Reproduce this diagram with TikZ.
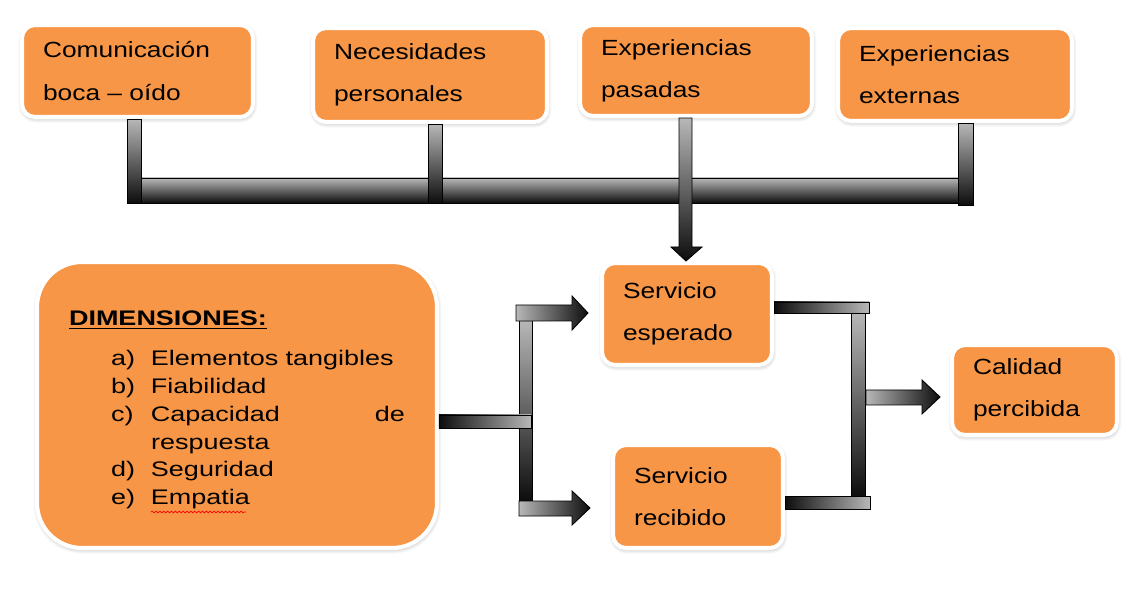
\documentclass[tikz,border=0pt]{standalone}
\usepackage{fontspec}
\setmainfont{Liberation Sans}
\newfontfamily\boxfont{Liberation Sans}[FakeStretch=1.2]
\newfontfamily\dimfont{Liberation Sans}[FakeStretch=1.28]
\usetikzlibrary{shadows.blur,decorations.pathmorphing}
\definecolor{boxorange}{HTML}{F79646}

\begin{document}
\begin{tikzpicture}[x=0.02cm, y=-0.02cm,
    box/.style={rectangle, rounded corners=0.26cm, fill=boxorange, draw=white, line width=2.3pt,
                inner xsep=0.42cm, inner ysep=0pt, align=left,
                font=\boxfont\fontsize{12.5}{24}\selectfont,
                blur shadow={shadow xshift=0.3pt, shadow yshift=-1pt, shadow opacity=30,
                             shadow blur radius=2.5pt, shadow blur steps=8}},
    pipe v/.style={draw=black, line width=0.5pt, top color=black!28, bottom color=black!95},
    pipe h/.style={draw=black, line width=0.5pt, left color=black!28, right color=black!95},
    pipe hrev/.style={draw=black, line width=0.5pt, left color=black!95, right color=black!28}]

  \useasboundingbox (0,0) rectangle (1137,591);

  % cajas de arriba
  \node[box, minimum width=4.62cm, minimum height=1.84cm, text width=3.78cm] (boca) at (137.5,71) {Comunicación\\boca – oído};
  \node[box, minimum width=4.68cm, minimum height=1.88cm, text width=3.84cm] (necesidades) at (430,75) {Necesidades\\personales};
  \node[box, minimum width=4.64cm, minimum height=1.82cm, text width=3.80cm] (pasadas) at (696,70.5) {Experiencias\\pasadas};
  \node[box, minimum width=4.68cm, minimum height=1.86cm, text width=3.84cm] (externas) at (955,74.5) {Experiencias\\externas};

  % servicio y calidad
  \node[box, minimum width=3.40cm, minimum height=2.04cm, text width=2.56cm] (esperado) at (687,314) {Servicio\\esperado};
  \node[box, minimum width=3.40cm, minimum height=2.06cm, text width=2.56cm] (recibido) at (698,496.5) {Servicio\\recibido};
  \node[box, minimum width=3.30cm, minimum height=1.80cm, text width=2.46cm] (calidad) at (1034.5,390) {Calidad\\percibida};

  \node[box, rounded corners=0.9cm, minimum width=8cm, minimum height=5.72cm, inner xsep=0.62cm,
        text width=6.72cm, font=\dimfont\fontsize{12}{15.8}\selectfont] (dims) at (237,405)
    {\rule{0pt}{16.5pt}\textbf{\underline{DIMENSIONES:}}\\[7pt]
     \begin{tabular}[t]{@{\hspace{0.84cm}}p{0.8cm}@{}p{5.08cm}@{}}
       a) & Elementos tangibles\\
       b) & Fiabilidad\\
       c) & Capacidad \hfill de\newline respuesta\\
       d) & Seguridad\\
       e) & Empatia
     \end{tabular}};
  \draw[red, line width=0.4pt, decorate, decoration={snake, amplitude=0.5pt, segment length=2.2pt}]
    (151,512) -- (246,512);

  % barra de arriba
  \shade[pipe v] (127,178) rectangle (973,203);
  \shade[pipe v] (127,0 |- boca.south) rectangle (141,203);
  \shade[pipe v] (428,0 |- necesidades.south) rectangle (442,203);
  \shade[pipe v] (958,0 |- externas.south) rectangle (973,205);
  \shade[pipe v] (679,0 |- pasadas.south) -- (692,0 |- pasadas.south) -- (692,247) -- (702,247)
        -- (686,0 |- esperado.north) -- (671,247) -- (679,247) -- cycle;

  % dimensiones -> servicio
  \shade[pipe v] (519,320) rectangle (532,501);
  \shade[pipe hrev] (dims.east |- 0,415) rectangle (531,428);
  \shade[pipe h] (516,305) -- (572,305) -- (572,296) -- (588,313) -- (572,330) -- (572,321) -- (516,321) -- cycle;
  \shade[pipe h] (519,501) -- (572,501) -- (572,491) -- (590,508) -- (572,525) -- (572,516) -- (519,516) -- cycle;

  % servicio -> calidad
  \shade[pipe v] (851,313) rectangle (865,496);
  \shade[pipe hrev] (esperado.east |- 0,302) rectangle (869,313);
  \shade[pipe hrev] (recibido.east |- 0,496) rectangle (870,509);
  \shade[pipe h] (866,390) -- (922,390) -- (922,380) -- (940,397) -- (922,414) -- (922,405) -- (866,405) -- cycle;

\end{tikzpicture}
\end{document}
